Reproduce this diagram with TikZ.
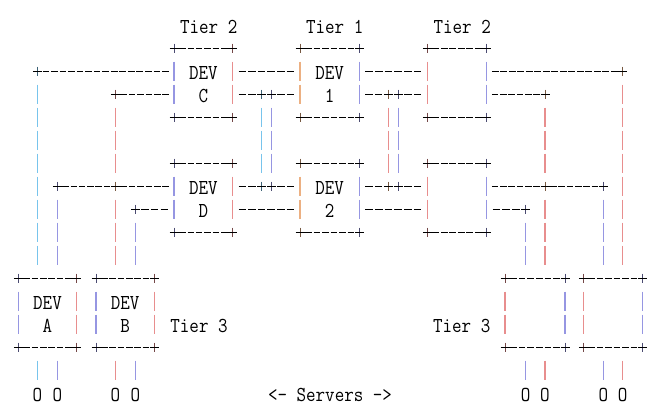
\documentclass[tikz,border=0pt]{standalone}
\usepackage{graphicx}
\usepackage{xcolor}
\definecolor{barpink}{RGB}{232,142,142}
\definecolor{barlav}{RGB}{150,150,226}
\definecolor{barblue}{RGB}{120,196,236}
\definecolor{barpeach}{RGB}{236,176,130}

% text cell: taller than Latin Modern Mono
\newcommand{\tall}[1]{\scalebox{1}[1.15]{#1}}

% '+' at x on a text row, upright stroke tinted
\newcommand{\pluschar}[3]{%
  \draw[arm, #3!50!black] (#1,{25+23*(#2)-4.5}) -- (#1,{25+23*(#2)+4.5});
  \draw[arm] ({#1-4.5},{25+23*(#2)}) -- ({#1+4.5},{25+23*(#2)});}

% row of n hyphens between two x positions
\newcommand{\hrun}[4]{%
  \foreach \i in {1,...,#4}
    \draw[hyph] ({#2+(\i-0.39)*(#3-#2)/(#4+1)},{25+23*(#1)})
      -- ({#2+(\i+0.39)*(#3-#2)/(#4+1)},{25+23*(#1)});}

% '|' on every row from #2 to #3
\newcommand{\vbars}[4]{%
  \foreach \j in {#2,...,#3}
    \draw[bar, #4] (#1,{25+23*\j-9.5}) -- (#1,{25+23*\j+9.5});}

% +------+ box, three rows high
\newcommand{\devframe}[5]{%
  \pluschar{#1}{#3}{#4} \pluschar{#2}{#3}{#5}
  \pluschar{#1}{#3+3}{#4} \pluschar{#2}{#3+3}{#5}
  \hrun{#3}{#1}{#2}{6} \hrun{#3+3}{#1}{#2}{6}
  \draw[bar, #4] (#1,{25+23*(#3)+13.5}) -- ++(0,19) ++(0,4) -- ++(0,19);
  \draw[bar, #5] (#2,{25+23*(#3)+13.5}) -- ++(0,19) ++(0,4) -- ++(0,19);}

\newcommand{\devlabel}[4]{%
  \node[ascii] (#1) at (#2,{25+23*(#3)+8.5}) {\tall{DEV}};
  \node[ascii] (#1-id) at (#2,{25+23*(#3+1)+8.5}) {\tall{#4}};}

\begin{document}
\begin{tikzpicture}[x=1pt, y=-1pt,
  ascii/.style={font=\fontsize{18.5}{22}\selectfont\ttfamily, inner sep=0pt, anchor=base},
  bar/.style={line width=1.4pt},
  hyph/.style={line width=1pt, black},
  arm/.style={line width=1pt}]
  \useasboundingbox (0,0) rectangle (667,415);

  % tier labels
  \node[ascii] (tierC) at (208.7,33.5) {\tall{Tier 2}};
  \node[ascii] (tierOne) at (334.7,33.5) {\tall{Tier 1}};
  \node[ascii] (tierR) at (462.2,33.5) {\tall{Tier 2}};

  % tier 1 and tier 2 boxes
  \devframe{174}{232.7}{1}{barlav}{barpink}
  \devframe{174}{232.7}{6}{barlav}{barpink}
  \devframe{300}{359.3}{1}{barpeach}{barlav}
  \devframe{300}{359.3}{6}{barpeach}{barlav}
  \devframe{427.3}{486.7}{1}{barpink}{barlav}
  \devframe{427.3}{486.7}{6}{barpink}{barlav}
  \devlabel{devC}{203.4}{2}{C}
  \devlabel{devD}{203.4}{7}{D}
  \devlabel{devOne}{329.7}{2}{1}
  \devlabel{devTwo}{329.7}{7}{2}

  % tier 3 boxes
  \devframe{18.3}{76.7}{11}{barlav}{barpink}
  \devframe{96}{154.3}{11}{barlav}{barpink}
  \devframe{505}{565}{11}{barpink}{barlav}
  \devframe{583.3}{642.3}{11}{barpink}{barlav}
  \devlabel{devA}{47.5}{12}{A}
  \devlabel{devB}{125.2}{12}{B}
  \node[ascii] (tierL3) at (199,332.5) {\tall{Tier 3}};
  \node[ascii] (tierR3) at (461.7,332.5) {\tall{Tier 3}};

  % between tier 1 and tier 2
  \foreach \r in {2,8} {
    \hrun{\r}{232.7}{300}{6}
    \hrun{\r}{359.3}{427.3}{6}
  }
  \foreach \r in {3,7} {
    \hrun{\r}{232.7}{261.7}{2}
    \pluschar{261.7}{\r}{barblue}
    \pluschar{271.5}{\r}{barlav}
    \hrun{\r}{271.5}{300}{2}
    \hrun{\r}{359.3}{388.3}{2}
    \pluschar{388.3}{\r}{barpeach}
    \pluschar{398.3}{\r}{barlav}
    \hrun{\r}{398.3}{427.3}{2}
  }
  \vbars{261.7}{4}{6}{barblue}
  \vbars{271.5}{4}{6}{barlav}
  \vbars{388.3}{4}{6}{barpink}
  \vbars{398.3}{4}{6}{barlav}

  % left side down to tier 3
  \pluschar{37.3}{2}{barblue}
  \hrun{2}{37.3}{174}{15}
  \pluschar{115.3}{3}{barpink}
  \hrun{3}{115.3}{174}{6}
  \pluschar{57.3}{7}{barlav}
  \hrun{7}{57.3}{115.3}{6}
  \pluschar{115.3}{7}{barpeach}
  \hrun{7}{115.3}{174}{6}
  \pluschar{135.3}{8}{barlav}
  \hrun{8}{135.3}{174}{3}
  \vbars{37.3}{3}{10}{barblue}
  \vbars{115.3}{4}{6}{barpink}
  \vbars{115.3}{8}{10}{barpink}
  \vbars{57.3}{8}{10}{barlav}
  \vbars{135.3}{9}{10}{barlav}

  % right side down to tier 3
  \hrun{2}{486.7}{622.7}{15}
  \pluschar{622.7}{2}{barpeach}
  \hrun{3}{486.7}{545}{6}
  \pluschar{545}{3}{barpeach}
  \hrun{7}{486.7}{545}{6}
  \pluschar{545}{7}{barpeach}
  \hrun{7}{545}{603.3}{6}
  \pluschar{603.3}{7}{barlav}
  \hrun{8}{486.7}{525.7}{3}
  \pluschar{525.7}{8}{barlav}
  \vbars{622.7}{3}{10}{barpink}
  \vbars{545}{4}{6}{barpink}
  \vbars{545}{8}{10}{barpink}
  \vbars{603.3}{8}{10}{barlav}
  \vbars{525.7}{9}{10}{barlav}

  % servers
  \foreach \x/\c in {37.3/barblue, 57.3/barlav, 115.3/barpink, 135.3/barlav,
                     525.7/barlav, 545/barpink, 603.3/barlav, 622.7/barpink} {
    \vbars{\x}{15}{15}{\c}
    \node[ascii] at (\x,401.5) {\tall{O}};
  }
  \node[ascii] (servers) at (330,401.5) {\tall{<- Servers ->}};
\end{tikzpicture}
\end{document}
